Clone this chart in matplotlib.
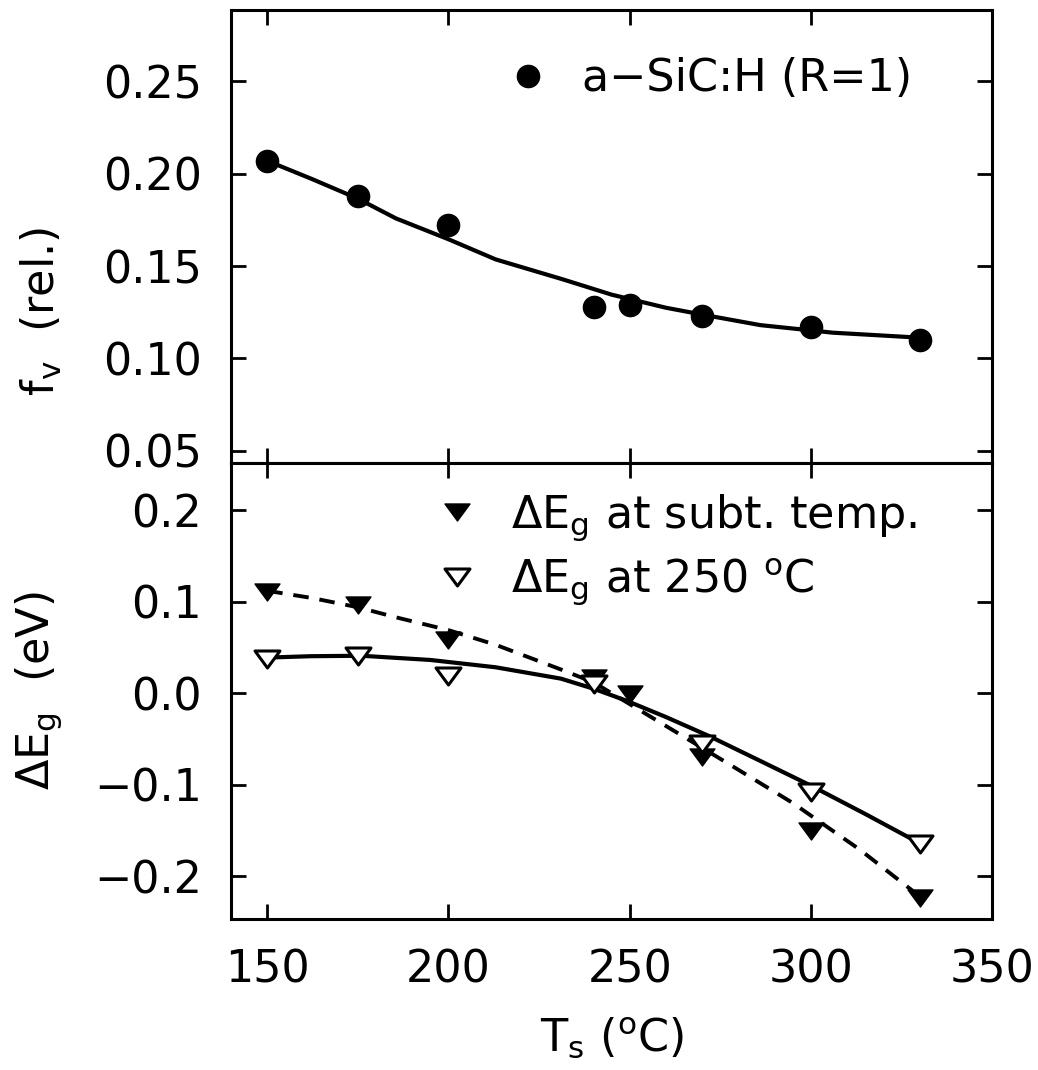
import numpy as np
import matplotlib.pyplot as plt
from matplotlib.path import Path

plt.rcParams['font.family'] = ['DejaVu Sans']
plt.rcParams['mathtext.default'] = 'regular'

# upper panel: void fraction vs substrate temperature
ts_fv = [150, 175, 200, 240, 250, 270, 300, 330]
fv = [0.207, 0.188, 0.172, 0.128, 0.129, 0.123, 0.117, 0.110]
# fitted curve
fit_t = [150, 162.5, 175, 185.5, 200, 213, 231.5, 245, 260, 270, 286, 306, 330]
fit_fv = [0.207, 0.197, 0.1865, 0.1758, 0.1645, 0.1536, 0.1428, 0.1345, 0.1274,
          0.1237, 0.118, 0.1139, 0.1112]

# lower panel: gap shift
ts_sub = [150, 175, 200, 240, 250, 270, 300, 330]
eg_sub = [0.111, 0.0965, 0.058, 0.0167, -0.001, -0.070, -0.150, -0.224]
ts_250 = [150, 175, 200, 240, 270, 300, 330]
eg_250 = [0.0375, 0.041, 0.019, 0.010, -0.055, -0.108, -0.165]
# curves through them
dash_t = [150, 162.5, 175, 185.5, 200, 213, 231, 240, 258, 277, 295, 313.5, 330]
dash_eg = [0.112, 0.104, 0.094, 0.083, 0.069, 0.053, 0.026, 0.012, -0.031, -0.0765,
           -0.120, -0.171, -0.222]
solid_t = [150, 162, 176, 195, 213, 231, 240, 249, 260, 272, 285, 300, 315, 330]
solid_eg = [0.039, 0.0405, 0.041, 0.0364, 0.0284, 0.016, 0.005, -0.008, -0.026,
            -0.047, -0.072, -0.101, -0.132, -0.164]

FS = 32
tri = Path([(-1, 0.68), (1, 0.68), (0, -0.68), (-1, 0.68)],
           [Path.MOVETO, Path.LINETO, Path.LINETO, Path.CLOSEPOLY])

fig = plt.figure(figsize=(10.38, 10.7), dpi=100)
L, W = 0.2225, 0.7335
ax1 = fig.add_axes([L, 0.5676, W, 0.4231])
ax2 = fig.add_axes([L, 0.1411, W, 0.4265], sharex=ax1)

ax1.plot(fit_t, fit_fv, color='black', lw=3)
ax1.plot(ts_fv, fv, 'o', color='black', ms=16, ls='none', label='a\u2212SiC:H (R=1)')
ax1.set_ylim(0.0435, 0.2887)
ax1.set_yticks([0.05, 0.10, 0.15, 0.20, 0.25])
ax1.set_yticklabels(['0.05', '0.10', '0.15', '0.20', '0.25'])
ax1.set_ylabel(r'f$_v$  (rel.)', fontsize=FS)
ax1.yaxis.set_label_coords(-0.219, 0.335)
ax1.tick_params(labelbottom=False)
ax1.legend(loc='center left', bbox_to_anchor=(0.361, 0.8476), frameon=False,
           fontsize=FS, handlelength=1.0, handletextpad=0.72, borderpad=0,
           borderaxespad=0, numpoints=1)

ax2.plot(dash_t, dash_eg, color='black', lw=2.8, dashes=(4, 2.8))
ax2.plot(solid_t, solid_eg, color='black', lw=3)
ax2.plot(ts_sub, eg_sub, marker=tri, color='black', ms=18, ls='none',
         label=r'ΔE$_g$ at subt. temp.')
ax2.plot(ts_250, eg_250, marker=tri, color='black', mfc='white', mew=2.2, ms=18,
         ls='none', label=r'ΔE$_g$ at 250 $^o$C')
ax2.set_ylim(-0.2467, 0.252)
ax2.set_yticks([-0.2, -0.1, 0.0, 0.1, 0.2])
ax2.set_ylabel(r'ΔE$_g$  (eV)', fontsize=FS)
ax2.yaxis.set_label_coords(-0.219, 0.5)
ax2.set_xlim(140, 350)
ax2.set_xticks([150, 200, 250, 300, 350])
ax2.set_xlabel(r'T$_s$ ($^o$C)', fontsize=FS)
ax2.xaxis.set_label_coords(0.5, -0.21)
ax2.legend(loc='center left', bbox_to_anchor=(0.268, 0.809), frameon=False,
           fontsize=FS, handlelength=1.0, handletextpad=0.72, borderpad=0,
           borderaxespad=0, numpoints=1, labelspacing=0.3)

for ax in (ax1, ax2):
    ax.tick_params(direction='in', length=11, width=2, top=True, right=True,
                   labelsize=FS, pad=21)
    for s in ax.spines.values():
        s.set_linewidth(2.2)

fig.savefig('out.png', dpi=100)
